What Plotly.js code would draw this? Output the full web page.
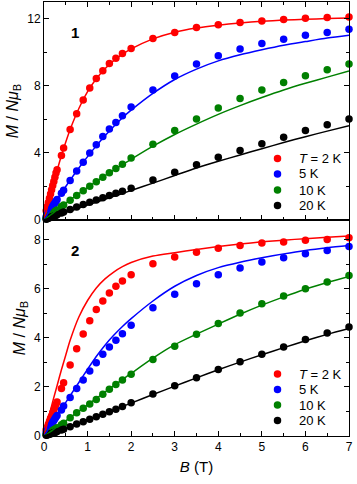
<!DOCTYPE html>
<html>
<head>
<meta charset="utf-8">
<script src="https://cdn.plot.ly/plotly-3.0.1.min.js"></script>
<style>
  html, body { margin: 0; padding: 0; background: #fff; }
  #plot { width: 357px; height: 484px; }
</style>
</head>
<body>
<div id="plot"></div>
<script>
// Field values (T) of the measured magnetisation points
const fieldB = [0.05, 0.075, 0.1, 0.125, 0.15, 0.175, 0.2, 0.225, 0.25, 0.275, 0.3,
  0.4, 0.45, 0.6, 0.75, 0.9, 1.05, 1.2, 1.35, 1.5, 1.65, 1.8, 2.0, 2.5, 3.0,
  3.5, 4.0, 4.5, 5.0, 5.5, 6.0, 6.5, 7.0];

// Compound 1, measured M / N muB
const c1_2K = [0.55, 0.8, 1.05, 1.3, 1.55, 1.8, 2.05, 2.3, 2.55, 2.8, 3.0,
  3.84, 4.3, 5.4, 6.33, 7.15, 7.87, 8.44, 8.9, 9.33, 9.65, 9.93, 10.23, 10.82, 11.18,
  11.48, 11.64, 11.78, 11.87, 11.95, 12.03, 12.07, 12.11];
const c1_5K = [0.2, 0.3, 0.41, 0.51, 0.62, 0.72, 0.82, 0.92, 1.02, 1.12, 1.22,
  1.6, 1.78, 2.35, 2.92, 3.45, 3.99, 4.49, 4.98, 5.43, 5.81, 6.22, 6.74, 7.75, 8.58,
  9.3, 9.79, 10.19, 10.52, 10.78, 11.02, 11.18, 11.38];
const c1_10K = [0.1, 0.15, 0.2, 0.25, 0.3, 0.35, 0.4, 0.45, 0.5, 0.55, 0.6,
  0.8, 0.9, 1.18, 1.46, 1.74, 2.01, 2.28, 2.55, 2.82, 3.07, 3.32, 3.7, 4.52, 5.33,
  6.02, 6.68, 7.25, 7.75, 8.2, 8.6, 8.96, 9.3];
const c1_20K = [0.05, 0.08, 0.1, 0.13, 0.16, 0.18, 0.21, 0.24, 0.26, 0.29, 0.31,
  0.42, 0.48, 0.63, 0.78, 0.92, 1.06, 1.2, 1.33, 1.46, 1.59, 1.72, 1.9, 2.38, 2.85,
  3.3, 3.74, 4.14, 4.54, 4.94, 5.33, 5.68, 6.02];

// Compound 2, measured M / N muB
const c2_2K = [0.25, 0.36, 0.48, 0.6, 0.72, 0.83, 0.95, 1.06, 1.17, 1.28, 1.39,
  1.94, 2.17, 2.89, 3.55, 4.16, 4.7, 5.15, 5.5, 5.83, 6.1, 6.31, 6.57, 7.02, 7.29,
  7.49, 7.65, 7.76, 7.86, 7.9, 7.97, 8.01, 8.08];
const c2_5K = [0.14, 0.21, 0.28, 0.35, 0.42, 0.49, 0.56, 0.63, 0.7, 0.77, 0.84,
  1.06, 1.22, 1.57, 1.94, 2.28, 2.65, 2.98, 3.33, 3.63, 3.9, 4.17, 4.51, 5.23, 5.77,
  6.2, 6.57, 6.84, 7.09, 7.26, 7.43, 7.56, 7.72];
const c2_10K = [0.06, 0.08, 0.11, 0.14, 0.17, 0.2, 0.22, 0.25, 0.28, 0.31, 0.34,
  0.46, 0.52, 0.74, 0.95, 1.13, 1.3, 1.49, 1.7, 1.9, 2.1, 2.28, 2.52, 3.12, 3.66,
  4.15, 4.58, 5.01, 5.39, 5.7, 6.0, 6.27, 6.54];
const c2_20K = [0.03, 0.04, 0.06, 0.07, 0.09, 0.1, 0.12, 0.13, 0.15, 0.16, 0.18,
  0.24, 0.28, 0.38, 0.49, 0.58, 0.68, 0.78, 0.89, 0.99, 1.09, 1.2, 1.35, 1.71, 2.05,
  2.37, 2.71, 3.02, 3.33, 3.63, 3.93, 4.2, 4.44];

// Field grid of the calculated curves
const fitB = [0, 0.1, 0.2, 0.3, 0.4, 0.5, 0.6, 0.8, 1.0, 1.2, 1.4, 1.6, 1.8, 2.0,
  2.5, 3.0, 3.5, 4.0, 4.5, 5.0, 5.5, 6.0, 6.5, 7.0];

const fit1_2K = [0, 1.0, 2.0, 2.95, 3.85, 4.65, 5.4, 6.65, 7.65, 8.42, 9.02, 9.5, 9.88, 10.2,
  10.8, 11.2, 11.45, 11.62, 11.75, 11.85, 11.92, 11.97, 12.01, 12.04];
const fit1_5K = [0, 0.42, 0.83, 1.23, 1.62, 2.0, 2.38, 3.1, 3.78, 4.42, 5.02, 5.58, 6.1, 6.55,
  7.55, 8.38, 9.0, 9.49, 9.85, 10.15, 10.42, 10.64, 10.85, 11.02];
const fit1_10K = [0, 0.2, 0.4, 0.6, 0.8, 1.0, 1.2, 1.58, 1.95, 2.3, 2.65, 2.98, 3.3, 3.62,
  4.4, 5.1, 5.72, 6.3, 6.82, 7.3, 7.75, 8.15, 8.52, 8.88];
const fit1_20K = [0, 0.09, 0.18, 0.27, 0.36, 0.45, 0.54, 0.71, 0.89, 1.06, 1.24, 1.41, 1.58, 1.76,
  2.2, 2.65, 3.1, 3.5, 3.88, 4.25, 4.62, 4.97, 5.3, 5.62];

const fit2_2K = [0, 0.7, 1.4, 2.05, 2.7, 3.3, 3.9, 4.85, 5.52, 6.03, 6.4, 6.68, 6.9, 7.07,
  7.33, 7.47, 7.6, 7.72, 7.82, 7.91, 7.98, 8.04, 8.1, 8.15];
const fit2_5K = [0, 0.28, 0.56, 0.83, 1.1, 1.37, 1.64, 2.18, 2.72, 3.24, 3.7, 4.1, 4.46, 4.78,
  5.5, 6.1, 6.54, 6.86, 7.08, 7.26, 7.42, 7.56, 7.67, 7.76];
const fit2_10K = [0, 0.12, 0.24, 0.37, 0.49, 0.62, 0.75, 1.01, 1.27, 1.53, 1.79, 2.05, 2.3, 2.55,
  3.17, 3.72, 4.15, 4.56, 4.96, 5.33, 5.67, 5.98, 6.25, 6.5];
const fit2_20K = [0, 0.06, 0.12, 0.18, 0.24, 0.31, 0.38, 0.51, 0.65, 0.79, 0.92, 1.06, 1.2, 1.34,
  1.69, 2.03, 2.37, 2.7, 3.01, 3.31, 3.6, 3.88, 4.14, 4.38];

const tempLabels = ['<i>T</i> = 2 K', '5 K', '10 K', '20 K'];
const colors = ['#ff0000', '#0000ff', '#008000', '#000000'];

const FONT = 'Liberation Sans, Arial, sans-serif';

// Figure geometry (px): plot area spans x 44..349, y 2..436
const W = 357, H = 484;
const M = { l: 44, r: 8, t: 2, b: 48 };
const plotW = W - M.l - M.r, plotH = H - M.t - M.b;
const px2paperX = x => (x - M.l) / plotW;
const px2paperY = y => (H - M.b - y) / plotH;

const panels = [
  { xa: 'x', ya: 'y', data: [c1_2K, c1_5K, c1_10K, c1_20K],
    fits: [fit1_2K, fit1_5K, fit1_10K, fit1_20K], keyRows: [158.5, 174, 190, 205.5] },
  { xa: 'x2', ya: 'y2', data: [c2_2K, c2_5K, c2_10K, c2_20K],
    fits: [fit2_2K, fit2_5K, fit2_10K, fit2_20K], keyRows: [374, 389.5, 405, 420.5] }
];

const traces = [];
const shapes = [];
const annotations = [];
const keyDotX = 277.5, keyTextX = 296.5;

panels.forEach(p => {
  p.data.forEach((m, i) => {
    traces.push({
      x: fieldB, y: m, xaxis: p.xa, yaxis: p.ya,
      type: 'scatter', mode: 'markers', name: tempLabels[i],
      showlegend: false, cliponaxis: false,
      marker: { color: colors[i], size: 7.5, line: { width: 0 } }
    });
  });
  p.fits.forEach((m, i) => {
    traces.push({
      x: fitB, y: m, xaxis: p.xa, yaxis: p.ya,
      type: 'scatter', mode: 'lines', showlegend: false,
      line: { color: colors[i], width: 1.5, shape: 'spline', smoothing: 0.8 },
      hoverinfo: 'skip'
    });
  });
  // key: coloured dot + temperature label per row
  p.keyRows.forEach((ry, i) => {
    shapes.push({
      type: 'circle', xref: 'paper', yref: 'paper',
      xsizemode: 'pixel', ysizemode: 'pixel',
      xanchor: px2paperX(keyDotX), yanchor: px2paperY(ry),
      x0: -3.75, x1: 3.75, y0: -3.75, y1: 3.75,
      fillcolor: colors[i], line: { width: 0 }
    });
    annotations.push({
      text: tempLabels[i], xref: 'paper', yref: 'paper',
      x: px2paperX(keyTextX), y: px2paperY(ry), xanchor: 'left', yanchor: 'middle',
      showarrow: false, font: { family: FONT, size: 13, color: '#000' }
    });
  });
});

// compound numbers
annotations.push(
  { text: '<b>1</b>', xref: 'paper', yref: 'paper', x: px2paperX(75), y: px2paperY(32),
    xanchor: 'center', yanchor: 'middle',
    showarrow: false, font: { family: FONT, size: 15, color: '#000' } },
  { text: '<b>2</b>', xref: 'paper', yref: 'paper', x: px2paperX(75), y: px2paperY(250.5),
    xanchor: 'center', yanchor: 'middle',
    showarrow: false, font: { family: FONT, size: 15, color: '#000' } }
);

const split = px2paperY(220);

const axisCommon = {
  showline: true, linecolor: '#000', linewidth: 1,
  ticks: 'inside', ticklen: 5, tickwidth: 1, tickcolor: '#000',
  showgrid: false, zeroline: false,
  tickfont: { family: FONT, size: 12, color: '#000' }
};

const yTitle = '<i>M</i> / <i>N</i><i>μ</i><sub>B</sub>';
const titleFont = { family: FONT, size: 16, color: '#000' };

const layout = {
  width: W, height: H,
  margin: M,
  paper_bgcolor: '#fff', plot_bgcolor: '#fff',
  font: { family: FONT, color: '#000' },
  showlegend: false,
  xaxis: Object.assign({}, axisCommon, {
    anchor: 'y', range: [0, 7], dtick: 1, showticklabels: false, mirror: 'allticks',
    minor: { dtick: 0.5, ticks: 'inside', ticklen: 3, tickcolor: '#000' }
  }),
  xaxis2: Object.assign({}, axisCommon, {
    anchor: 'y2', range: [0, 7], dtick: 1, mirror: true,
    minor: { dtick: 0.5, ticks: 'inside', ticklen: 3, tickcolor: '#000' },
    title: { text: '<i>B</i> (T)', font: { family: FONT, size: 15, color: '#000' }, standoff: 8 }
  }),
  yaxis: Object.assign({}, axisCommon, {
    domain: [split, 1], range: [0, 13], dtick: 4, mirror: 'allticks',
    minor: { dtick: 2, ticks: 'inside', ticklen: 3, tickcolor: '#000' },
    title: { text: yTitle, font: titleFont, standoff: 4 }
  }),
  yaxis2: Object.assign({}, axisCommon, {
    domain: [0, split], range: [0, 8.8], dtick: 2, mirror: 'allticks',
    minor: { dtick: 1, ticks: 'inside', ticklen: 3, tickcolor: '#000' },
    title: { text: yTitle, font: titleFont, standoff: 4 }
  }),
  shapes: shapes,
  annotations: annotations
};

Plotly.newPlot('plot', traces, layout, { staticPlot: true, displayModeBar: false });
</script>
</body>
</html>
